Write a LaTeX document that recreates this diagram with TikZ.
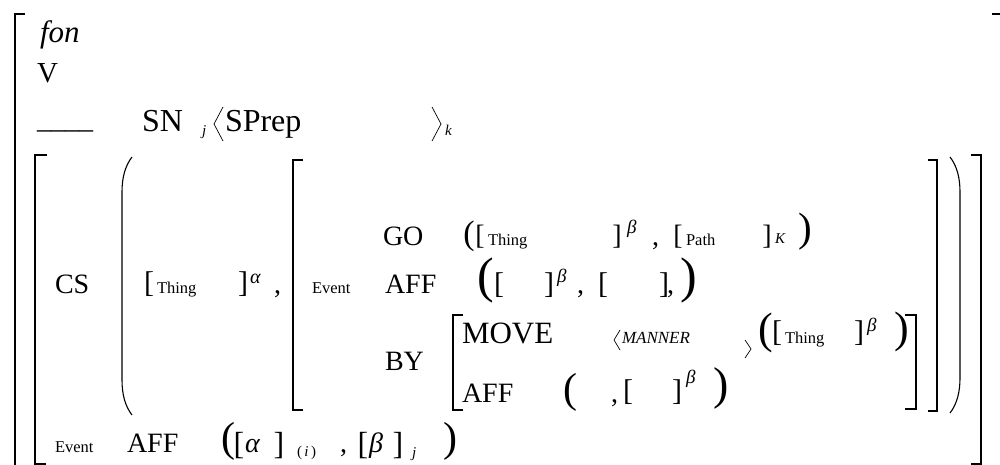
\documentclass[tikz,border=0pt]{standalone}
\usepackage{fontspec}
\setmainfont{Liberation Serif}
\begin{document}
\begin{tikzpicture}[x=1pt,y=-1pt,
  every node/.style={inner sep=0pt, outer sep=0pt},
  word/.style={anchor=base west, font=\fontsize{28}{28}\selectfont},
  lab/.style={anchor=base west, font=\fontsize{16.5}{16.5}\selectfont},
  idx/.style={anchor=base west, font=\fontsize{15}{15}\selectfont\itshape},
  supx/.style={anchor=base west, font=\fontsize{19}{19}\selectfont\itshape},
  br/.style={anchor=center, font=\fontsize{#1}{#1}\selectfont},
  br/.default=30,
  rule/.style={line width=1.2pt, line cap=butt, line join=miter},
  curve/.style={line width=1.1pt},
  angle/.style={line width=0.7pt, line join=miter},
]
\useasboundingbox (0,0) rectangle (1000,465);

% ---- outer brackets ----
\draw[rule] (25,14) -- (15,14) -- (15,466);
\draw[rule] (992,14) -- (1003,14) -- (1003,466);
\draw[rule] (47,155) -- (35,155) -- (35,464) -- (46,464);
\draw[rule] (971,155) -- (981,155) -- (981,464) -- (971,464);

% ---- big parentheses ----
\draw[curve] (132,157) .. controls (125,166) and (122,178) .. (122,192) -- (122,380) .. controls (122,394) and (125,406) .. (132,415);
\draw[curve] (950,157) .. controls (957,166) and (960,178) .. (960,192) -- (960,378) .. controls (960,392) and (957,404) .. (950,413);

% ---- Event bracket ----
\draw[rule] (303,160) -- (293,160) -- (293,410) -- (303,410);
\draw[rule] (928,160) -- (937,160) -- (937,411) -- (928,411);

% ---- BY bracket ----
\draw[rule] (463,315) -- (453,315) -- (453,410) -- (463,410);
\draw[rule] (905,315) -- (916,315) -- (916,409) -- (905,409);

% ---- phonology / category / subcategorisation ----
\node[word, font=\fontsize{31}{31}\selectfont\itshape] (fon) at (40,43) {fon};
\node[word, font=\fontsize{29}{29}\selectfont] (v) at (37,83) {V};
\node[word] (blank) at (37,129) {\_\_\_\_};
\node[word, font=\fontsize{32}{32}\selectfont] (sn) at (142,132) {SN};
\node[idx] (j1) at (202,136) {j};
\draw[angle] (223,107) -- (214,124) -- (223,141);
\node[word, font=\fontsize{32}{32}\selectfont] (sprep) at (225,132) {SPrep};
\draw[angle] (432,107) -- (441,124) -- (432,141);
\node[idx] (k1) at (445,136) {k};

% ---- CS row ----
\node[word] (cs) at (55,293) {CS};
\node[br] (t1o) at (149,284.5) {[};
\node[lab] (t1) at (157,293) {Thing};
\node[br] (t1c) at (243,284.5) {]};
\node[supx, font=\fontsize{20}{20}\selectfont\itshape] (alpha1) at (250,283) {α};
\node[word] (cm1) at (274,293) {,};

% ---- Event: GO ----
\node[lab] (ev1) at (312,293) {Event};
\node[word] (go) at (383,245) {GO};
\node[br=34] (gpo) at (469,236) {(};
\node[br=28] (gb1o) at (480,236.5) {[};
\node[lab] (t2) at (488,245) {Thing};
\node[br=28] (gb1c) at (617,236.5) {]};
\node[supx] (beta1) at (627,233) {β};
\node[word] (cm2) at (652,245) {,};
\node[br=28] (gb2o) at (678,236.5) {[};
\node[lab] (path) at (686,245) {Path};
\node[br=28] (gb2c) at (767,236.5) {]};
\node[idx] (kk) at (775,243) {K};
\node[br=41] (gpc) at (805,231.5) {)};

% ---- Event: AFF ----
\node[word] (aff1) at (385,293) {AFF};
\node[br=50] (apo) at (486,280) {(};
\node[br] (ab1o) at (499,285) {[};
\node[br] (ab1c) at (549,285) {]};
\node[supx] (beta2) at (557,282) {β};
\node[word] (cm3) at (577,293) {,};
\node[br] (ab2o) at (603,285) {[};
\node[br] (ab2c) at (664,285) {]};
\node[word] (cm4) at (667,293) {,};
\node[br=50] (apc) at (689,280) {)};

% ---- Event: BY ----
\node[word] (by) at (385,370) {BY};
\node[word, font=\fontsize{31}{31}\selectfont] (move) at (462,343) {MOVE};
\draw[angle] (620,330) -- (614,340) -- (620,350);
\node[idx, font=\fontsize{17}{17}\selectfont\itshape] (manner) at (622,343) {MANNER};
\draw[angle] (745,340) -- (751,349) -- (745,358);
\node[br=44] (mpo) at (766,332.5) {(};
\node[br] (mbo) at (777,333.5) {[};
\node[lab] (t3) at (785,343) {Thing};
\node[br] (mbc) at (859,333.5) {]};
\node[supx] (beta3) at (867,331) {β};
\node[br=44] (mpc) at (902,332) {)};

\node[word] (aff2) at (462,402) {AFF};
\node[br=42] (fpo) at (570,392.5) {(};
\node[word] (cm5) at (611,402) {,};
\node[br] (fbo) at (628,392) {[};
\node[br] (fbc) at (677,392) {]};
\node[supx] (beta4) at (686,383) {β};
\node[br=46] (fpc) at (721,388) {)};

% ---- bottom row ----
\node[lab] (ev2) at (55,452) {Event};
\node[word] (aff3) at (127,452) {AFF};
\node[br=42] (bpo) at (228,441.5) {(};
\node[br=32] (bb1o) at (239,446) {[};
\node[word, font=\fontsize{28}{28}\selectfont\itshape] (alpha2) at (245,452) {α};
\node[br=32] (bb1c) at (279,446) {]};
\node[anchor=base west, font=\fontsize{15}{15}\selectfont] (ii) at (297,456) {(\,\textit{i}\,)};
\node[word] (cm6) at (340,452) {,};
\node[br=32] (bb2o) at (363,446) {[};
\node[word, font=\fontsize{28}{28}\selectfont\itshape] (beta5) at (369,452) {β};
\node[br=32] (bb2c) at (398,446) {]};
\node[idx] (j2) at (412,457) {j};
\node[br=42] (bpc) at (450,441.5) {)};
\end{tikzpicture}
\end{document}
